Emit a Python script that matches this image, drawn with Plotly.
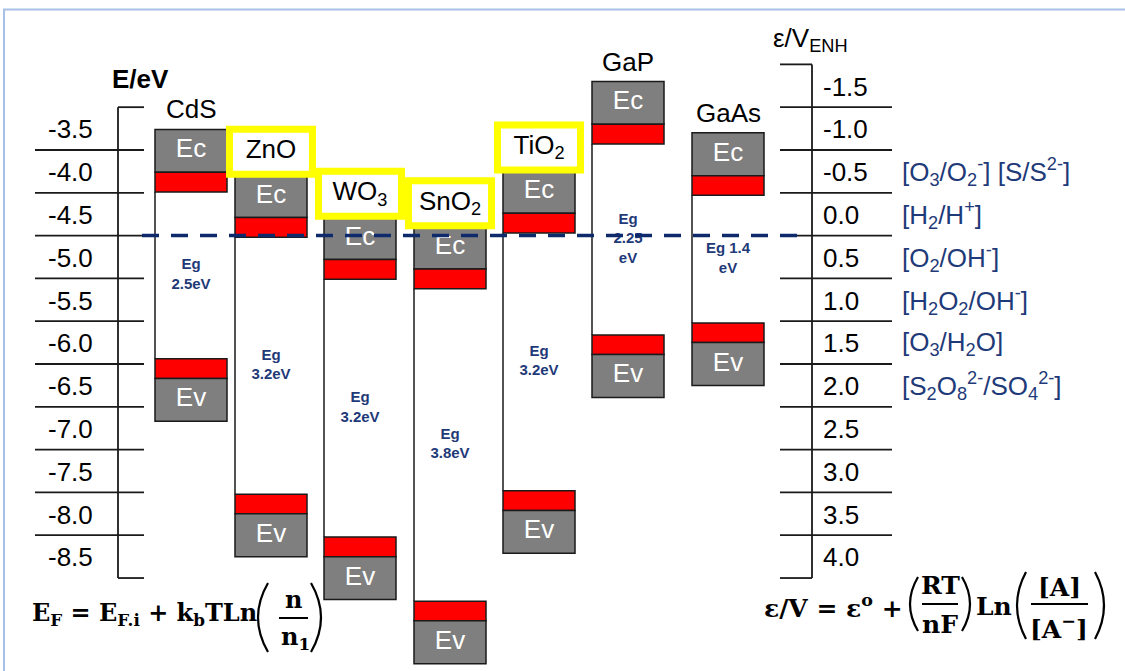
import plotly.graph_objects as go

# ------------------------------------------------------------------ data
materials = ["CdS", "ZnO", "WO3", "SnO2", "TiO2", "GaP", "GaAs"]
material_labels = ["CdS", "ZnO", "WO<sub>3</sub>", "SnO<sub>2</sub>", "TiO<sub>2</sub>", "GaP", "GaAs"]
highlighted = [False, True, True, True, True, False, False]
# edge of conduction-band block facing the gap (eV vs vacuum)
cb_edge_eV = [-3.99, -4.52, -5.01, -5.12, -4.47, -3.43, -4.03]
# edge of valence-band block facing the gap (eV vs vacuum)
vb_edge_eV = [-5.94, -7.52, -8.02, -8.77, -7.48, -5.66, -5.52]
eg_labels = ["Eg<br>2.5eV", "Eg<br>3.2eV", "Eg<br>3.2eV", "Eg<br>3.8eV",
             "Eg<br>3.2eV", "Eg<br>2.25<br>eV", "Eg 1.4<br>eV"]

e_scale_eV = [-3.0, -3.5, -4.0, -4.5, -5.0, -5.5, -6.0, -6.5, -7.0, -7.5, -8.0, -8.5]
v_scale_V = [-2.0, -1.5, -1.0, -0.5, 0.0, 0.5, 1.0, 1.5, 2.0, 2.5, 3.0, 3.5, 4.0]
redox_V = [-0.5, 0.0, 0.5, 1.0, 1.5, 2.0]
redox_labels = [
    "[O<sub>3</sub>/O<sub>2</sub><sup>-</sup>] [S/S<sup>2-</sup>]",
    "[H<sub>2</sub>/H<sup>+</sup>]",
    "[O<sub>2</sub>/OH<sup>-</sup>]",
    "[H<sub>2</sub>O<sub>2</sub>/OH<sup>-</sup>]",
    "[O<sub>3</sub>/H<sub>2</sub>O]",
    "[S<sub>2</sub>O<sub>8</sub><sup>2-</sup>/SO<sub>4</sub><sup>2-</sup>]",
]
nhe_zero_eV = -4.5      # 0 V(NHE) on the vacuum scale
h2_level_V = 0.0        # dashed reference line

# ------------------------------------------------------------------ layout / style
W, H = 1125, 671
E_MIN, E_MAX = -9.586, -1.748
PX_PER_EV = H / (E_MAX - E_MIN)

def to_V(e):
    return nhe_zero_eV - e

def pix_to_E(y):
    return E_MAX - y / PX_PER_EV

col_left = [155, 235, 324, 414, 503, 592, 692]
COL_W = 72
RED_H = 0.23
GRAY_H = 0.50

GRAY = "#7F7F7F"
RED = "#FF0000"
EDGE = "#1a1a1a"
NAVY = "#1F3A78"
YELLOW = "#FFFF00"
FRAME = "#A7C1E6"
SANS = "Liberation Sans, Arial, sans-serif"
SERIF = "DejaVu Serif, serif"
FS = 26
FF_L = 24  # left formula font size
FF_R = 25  # right formula font size

def pxx(x):
    return x / W

def pxy(y):
    return 1 - y / H

shapes = []
annotations = []

def add_rect(x0, x1, y0, y1, fill, yref="y", line=EDGE, lw=1.5, layer="below"):
    shapes.append(dict(type="rect", xref="x", yref=yref, x0=x0, x1=x1, y0=y0, y1=y1,
                       fillcolor=fill, line=dict(color=line, width=lw), layer=layer))

def add_line(x0, x1, y0, y1, yref="y", color=EDGE, lw=1.5, dash=None, layer="below"):
    ln = dict(color=color, width=lw)
    if dash:
        ln["dash"] = dash
    shapes.append(dict(type="line", xref="x", yref=yref, x0=x0, x1=x1, y0=y0, y1=y1,
                       line=ln, layer=layer))

def add_text(text, x, y, size, color="black", family=SANS, xanchor="center",
             yanchor="middle", xref="paper", yref="paper"):
    annotations.append(dict(text=text, x=x, y=y, xref=xref, yref=yref, showarrow=False,
                            xanchor=xanchor, yanchor=yanchor,
                            font=dict(size=size, color=color, family=family)))

def add_paren(x_end, x_ctrl, y0, y1, lw=2.2):
    """curved bracket drawn in pixel space (x) / converted y"""
    ym = (y0 + y1) / 2
    path = (f"M {x_end},{pix_to_E(y0)} Q {x_ctrl},{pix_to_E(ym)} {x_end},{pix_to_E(y1)}")
    shapes.append(dict(type="path", xref="x", yref="y", path=path,
                       line=dict(color="black", width=lw), layer="above"))

def add_frac_bar(x0, x1, y):
    shapes.append(dict(type="line", xref="paper", yref="paper", x0=pxx(x0), x1=pxx(x1),
                       y0=pxy(y), y1=pxy(y), line=dict(color="black", width=2)))

# frame
shapes.append(dict(type="rect", xref="paper", yref="paper", x0=pxx(4), x1=pxx(1140),
                   y0=pxy(690), y1=pxy(9.5), line=dict(color=FRAME, width=2),
                   fillcolor="rgba(0,0,0,0)", layer="below"))

# ---------------- left scale (eV)
AX_L = 118
add_line(AX_L, AX_L, e_scale_eV[0], e_scale_eV[-1], lw=1.8)
for i, e in enumerate(e_scale_eV):
    x0 = AX_L if i in (0, len(e_scale_eV) - 1) else 35
    add_line(x0, 144, e, e, lw=1.8)
    if i > 0:
        add_text(f"{e:.1f}", 70, e + 0.24, FS, xref="x", yref="y")
add_text("<b>E/eV</b>", pxx(140), pxy(79), FS)

# ---------------- right scale (V vs NHE)
AX_R = 812
add_line(AX_R, AX_R, v_scale_V[0], v_scale_V[-1], yref="y2", lw=1.8)
for i, v in enumerate(v_scale_V):
    x1 = AX_R if i in (0, len(v_scale_V) - 1) else 892
    add_line(780, x1, v, v, yref="y2", lw=1.8)
    if i > 0:
        add_text(f"{v:.1f}", 821, v - 0.24, FS, xanchor="left", xref="x", yref="y2")
for v, lab in zip(redox_V, redox_labels):
    add_text(lab, 900, v - 0.24, FS, color=NAVY, xanchor="left", xref="x", yref="y2")
add_text("ε/V<sub>ENH</sub>", pxx(771), pxy(40), FS, xanchor="left")

# ---------------- band blocks
ec_x, ec_y, ev_x, ev_y, eg_x, eg_y = [], [], [], [], [], []
name_x, name_y, name_t = [], [], []
for i, m in enumerate(materials):
    x0 = col_left[i]
    x1 = x0 + COL_W
    xc = (x0 + x1) / 2
    cb, vb = cb_edge_eV[i], vb_edge_eV[i]
    # conduction band block
    add_rect(x0, x1, cb + RED_H, cb + RED_H + GRAY_H, GRAY)
    add_rect(x0, x1, cb, cb + RED_H, RED)
    # valence band block
    add_rect(x0, x1, vb - RED_H, vb, RED)
    add_rect(x0, x1, vb - RED_H - GRAY_H, vb - RED_H, GRAY)
    # gap line on the left side
    add_line(x0, x0, cb, vb, lw=1.5)
    ec_x.append(xc); ec_y.append(cb + RED_H + GRAY_H / 2)
    ev_x.append(xc); ev_y.append(vb - RED_H - GRAY_H / 2)
    eg_x.append(xc); eg_y.append((cb + vb) / 2)
    gray_top = cb + RED_H + GRAY_H
    if highlighted[i]:
        bot = gray_top - 3 / PX_PER_EV
        top = bot + 52 / PX_PER_EV
        inset = 3.5 / PX_PER_EV
        shapes.append(dict(type="rect", xref="x", yref="y", x0=xc - 45 + 3.5, x1=xc + 45 - 3.5,
                           y0=bot + inset, y1=top - inset,
                           line=dict(color=YELLOW, width=7), fillcolor="rgba(0,0,0,0)",
                           layer="above"))
        name_x.append(xc); name_y.append((bot + top) / 2); name_t.append(material_labels[i])
    else:
        add_text(material_labels[i], xc, gray_top + 3 / PX_PER_EV, FS,
                 yanchor="bottom", xref="x", yref="y")

# dashed H2/H+ line
add_line(142, 800, h2_level_V, h2_level_V, yref="y2", color="#0F2A6B", lw=3.5,
         dash="17px,12px", layer="above")

# ---------------- formulas
# left: E_F = E_F.i + k_b T Ln (n / n_1)
add_text("<b>E<sub>F</sub> = E<sub>F.i</sub> + k<sub>b</sub>TLn</b>", pxx(30), pxy(614), FF_L,
         family=SERIF, xanchor="left")
add_paren(268, 248, 583, 652)
add_text("<b>n</b>", pxx(293), pxy(599), FF_L, family=SERIF)
add_frac_bar(279, 308, 618)
add_text("<b>n<sub>1</sub></b>", pxx(295), pxy(638), FF_L, family=SERIF)
add_paren(311, 331, 583, 652)

# right: eps/V = eps0 + (RT/nF) Ln([A]/[A-])
add_text("<b>ε/V = ε<sup>o</sup> +</b>", pxx(762), pxy(606), FF_R, family=SERIF, xanchor="left")
add_paren(918, 902, 577, 631)
add_text("<b>RT</b>", pxx(940), pxy(585), FF_R, family=SERIF)
add_frac_bar(922, 958, 604)
add_text("<b>nF</b>", pxx(940), pxy(624), FF_R, family=SERIF)
add_paren(962, 978, 577, 631)
add_text("<b>Ln</b>", pxx(994), pxy(606), FF_R, family=SERIF)
add_paren(1026, 1008, 572, 639)
add_text("<b>[A]</b>", pxx(1059), pxy(587), FF_R, family=SERIF)
add_frac_bar(1031, 1088, 604)
add_text("<b>[A<sup>−</sup>]</b>", pxx(1059), pxy(627), FF_R, family=SERIF)
add_paren(1095, 1113, 572, 639)

# ------------------------------------------------------------------ figure
fig = go.Figure()
fig.add_trace(go.Scatter(x=ec_x, y=ec_y, mode="text", text=["Ec"] * len(ec_x),
                         textfont=dict(size=FS, color="white", family=SANS),
                         hoverinfo="skip", showlegend=False))
fig.add_trace(go.Scatter(x=ev_x, y=ev_y, mode="text", text=["Ev"] * len(ev_x),
                         textfont=dict(size=FS, color="white", family=SANS),
                         hoverinfo="skip", showlegend=False))
fig.add_trace(go.Scatter(x=eg_x, y=eg_y, mode="text", text=eg_labels,
                         textfont=dict(size=15, color=NAVY, family=SANS, weight="bold"),
                         hoverinfo="skip", showlegend=False))
fig.add_trace(go.Scatter(x=name_x, y=name_y, mode="text", text=name_t,
                         textfont=dict(size=FS, color="black", family=SANS),
                         hoverinfo="skip", showlegend=False))
fig.add_trace(go.Scatter(x=[0], y=[to_V(E_MAX)], yaxis="y2", mode="markers",
                         marker=dict(opacity=0), hoverinfo="skip", showlegend=False))

fig.update_layout(
    width=W, height=H,
    margin=dict(l=0, r=0, t=0, b=0),
    paper_bgcolor="white", plot_bgcolor="white",
    xaxis=dict(range=[0, W], visible=False, fixedrange=True),
    yaxis=dict(range=[E_MIN, E_MAX], visible=False, fixedrange=True),
    yaxis2=dict(range=[to_V(E_MIN), to_V(E_MAX)], overlaying="y", visible=False,
                fixedrange=True),
    shapes=shapes,
    annotations=annotations,
    showlegend=False,
)

fig.write_html("out.html", config={"displayModeBar": False},
               post_script="document.body.style.margin='0';document.body.style.overflow='hidden';")
